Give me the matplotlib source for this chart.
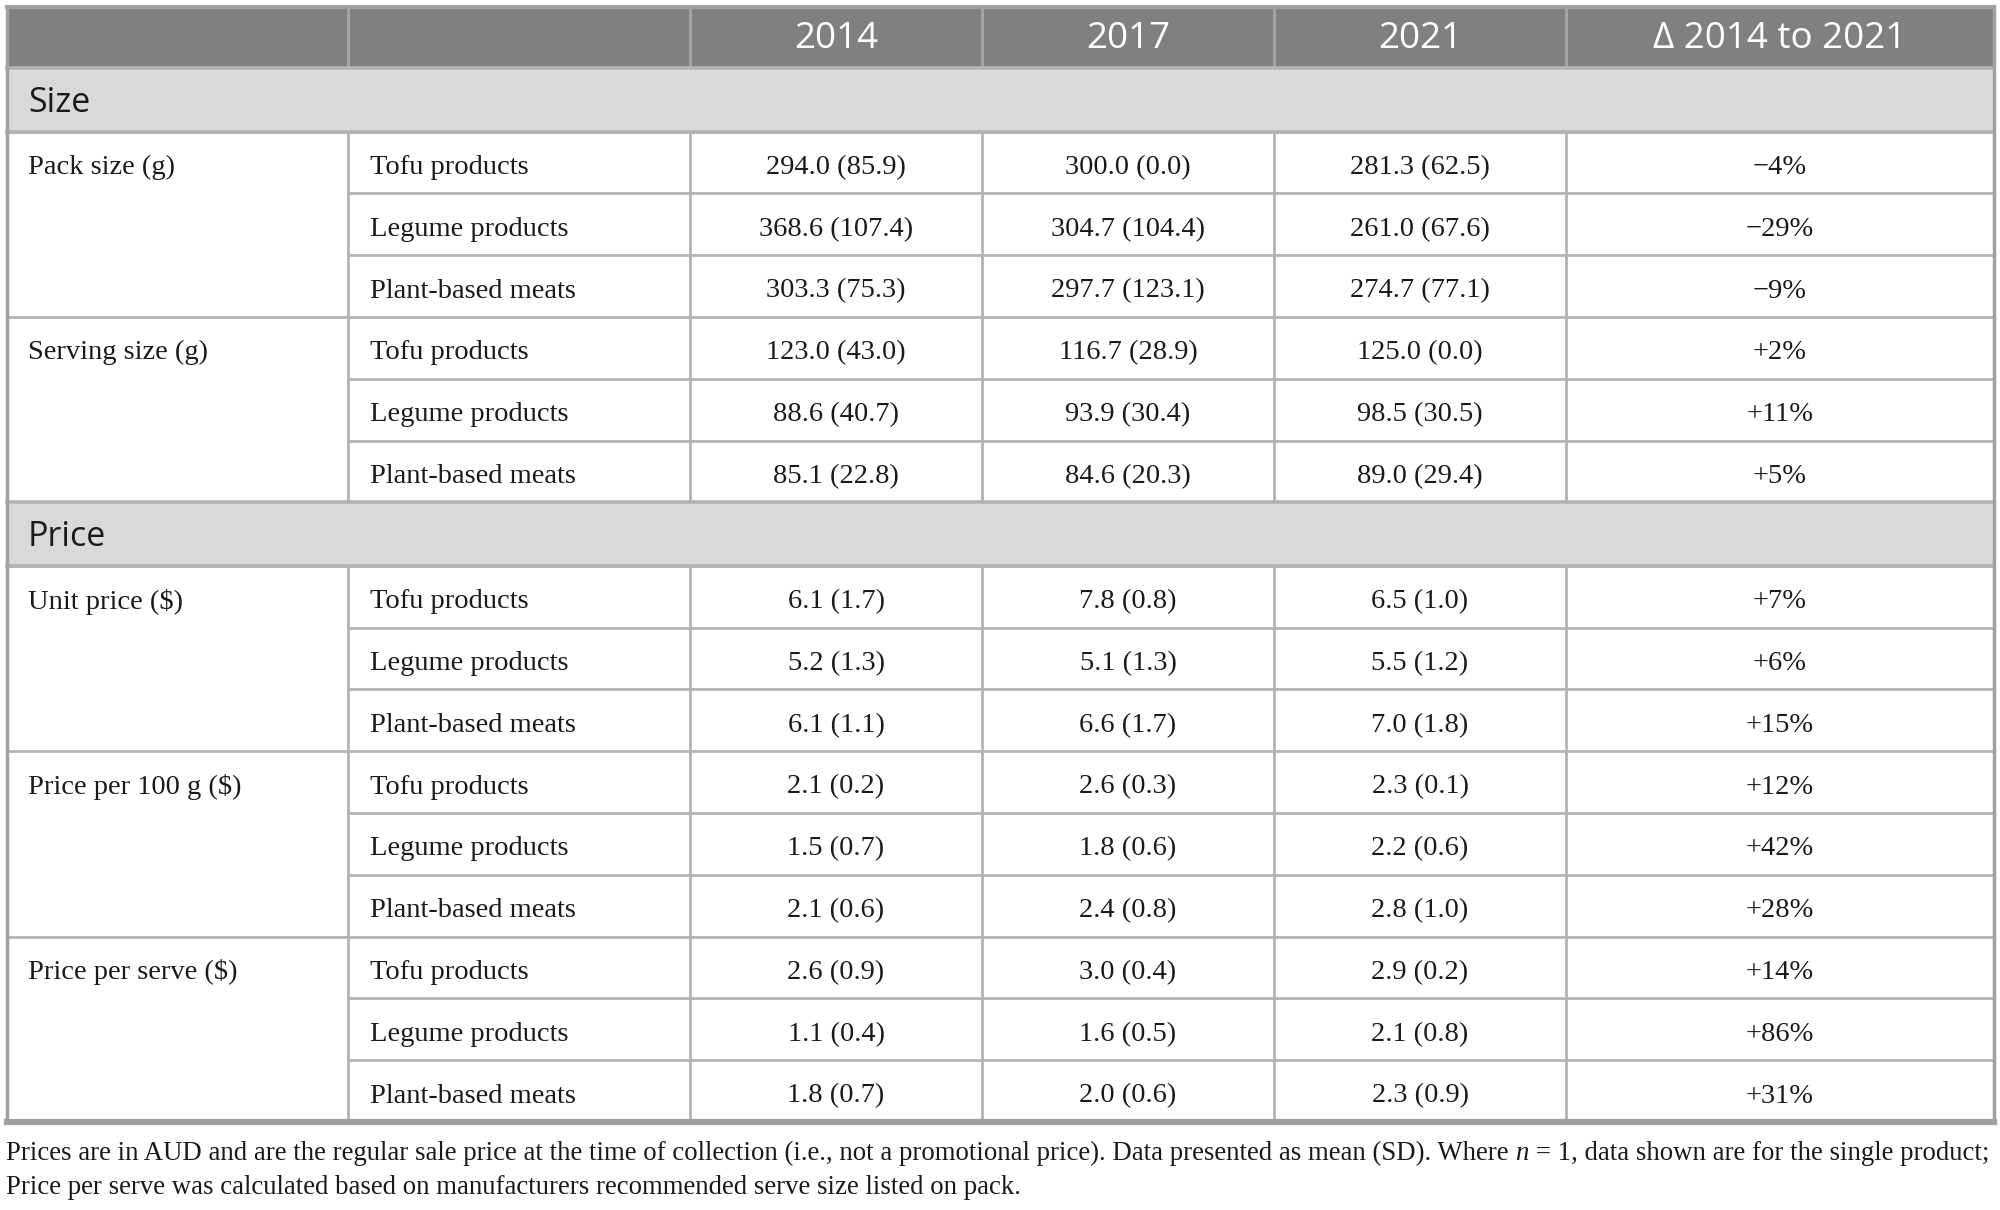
import matplotlib
matplotlib.use("Agg")
import matplotlib.pyplot as plt
from matplotlib.patches import Rectangle

# ---------------- data ----------------
years = ["2014", "2017", "2021"]
delta_header = "Δ 2014 to 2021"
sections = ["Size", "Price"]
measures = ["Pack size (g)", "Serving size (g)", "Unit price ($)",
            "Price per 100 g ($)", "Price per serve ($)"]
measure_section = [0, 0, 1, 1, 1]
products = ["Tofu products", "Legume products", "Plant-based meats"]

mean_2014 = [294.0, 368.6, 303.3, 123.0, 88.6, 85.1, 6.1, 5.2, 6.1, 2.1, 1.5, 2.1, 2.6, 1.1, 1.8]
sd_2014 = [85.9, 107.4, 75.3, 43.0, 40.7, 22.8, 1.7, 1.3, 1.1, 0.2, 0.7, 0.6, 0.9, 0.4, 0.7]
mean_2017 = [300.0, 304.7, 297.7, 116.7, 93.9, 84.6, 7.8, 5.1, 6.6, 2.6, 1.8, 2.4, 3.0, 1.6, 2.0]
sd_2017 = [0.0, 104.4, 123.1, 28.9, 30.4, 20.3, 0.8, 1.3, 1.7, 0.3, 0.6, 0.8, 0.4, 0.5, 0.6]
mean_2021 = [281.3, 261.0, 274.7, 125.0, 98.5, 89.0, 6.5, 5.5, 7.0, 2.3, 2.2, 2.8, 2.9, 2.1, 2.3]
sd_2021 = [62.5, 67.6, 77.1, 0.0, 30.5, 29.4, 1.0, 1.2, 1.8, 0.1, 0.6, 1.0, 0.2, 0.8, 0.9]
delta_pct = [-4, -29, -9, 2, 11, 5, 7, 6, 15, 12, 42, 28, 14, 86, 31]

footnote_1a = ("Prices are in AUD and are the regular sale price at the time of collection "
               "(i.e., not a promotional price). Data presented as mean (SD). Where ")
footnote_1b = "n"
footnote_1c = " = 1, data shown are for the single product;"
footnote_2 = "Price per serve was calculated based on manufacturers recommended serve size listed on pack."

# ---------------- layout ----------------
W, H = 2000, 1210
fig = plt.figure(figsize=(20, 12.1), dpi=100)
ax = fig.add_axes([0, 0, 1, 1])
ax.set_xlim(0, W)
ax.set_ylim(H, 0)
ax.axis("off")

SERIF = ["Liberation Serif", "DejaVu Serif"]
SANS = ["Open Sans", "DejaVu Sans"]
body_fs = 20.5
head_fs = 26.5
sec_fs = 24.5
foot_fs = 19.3
txt_c = "#1a1a1a"

col_x = [6.5, 348, 690, 982, 1274, 1566, 1994]
top = 6.5
header_h = 61.5
section_h = 63.5
row_h = 61.8
line_c = "#b3b3b3"
lw = 2.0
dy = 5  # body text baseline offset within rows

# compute row positions
y = top
header_top, header_bot = y, y + header_h
y = header_bot
rows = []  # (kind, y0, y1, payload)
data_i = 0
for s_i, sec in enumerate(sections):
    rows.append(("section", y, y + section_h, sec))
    y += section_h
    for m_i, meas in enumerate(measures):
        if measure_section[m_i] != s_i:
            continue
        for p_i, prod in enumerate(products):
            rows.append(("data", y, y + row_h, (m_i, p_i, data_i)))
            y += row_h
            data_i += 1
bottom = y

# header
ax.add_patch(Rectangle((col_x[0], header_top), col_x[-1] - col_x[0], header_h,
                       facecolor="#808080", edgecolor="none"))
hc = (header_top + header_bot) / 2
heads = ["", ""] + years + [delta_header]
for j, t in enumerate(heads):
    if t:
        ax.text((col_x[j] + col_x[j + 1]) / 2, hc + 2, t, ha="center", va="center",
                color="white", fontsize=head_fs, family=SANS)
for j in range(1, len(col_x) - 1):
    ax.plot([col_x[j], col_x[j]], [header_top, header_bot], color="#a8a8a8", lw=lw)


def fmt(m, s):
    return f"{m:.1f} ({s:.1f})"


def fmt_delta(d):
    return ("\u2212" if d < 0 else "+") + f"{abs(d)}%"


for kind, y0, y1, payload in rows:
    yc = (y0 + y1) / 2
    if kind == "section":
        ax.add_patch(Rectangle((col_x[0], y0), col_x[-1] - col_x[0], y1 - y0,
                               facecolor="#d9d9d9", edgecolor="none"))
        ax.text(28, yc + 3, payload, ha="left", va="center", color=txt_c,
                fontsize=sec_fs, family=SANS)
        ax.plot([col_x[0], col_x[-1]], [y0, y0], color=line_c, lw=lw + 0.6)
        ax.plot([col_x[0], col_x[-1]], [y1, y1], color=line_c, lw=lw + 0.6)
    else:
        m_i, p_i, k = payload
        if p_i == 0:
            ax.text(28, yc + dy, measures[m_i], ha="left", va="center", color=txt_c,
                    fontsize=body_fs, family=SERIF)
            ax.plot([col_x[0], col_x[-1]], [y0, y0], color=line_c, lw=lw)
        else:
            ax.plot([col_x[1], col_x[-1]], [y0, y0], color=line_c, lw=lw)
        ax.text(370, yc + dy, products[p_i], ha="left", va="center", color=txt_c,
                fontsize=body_fs, family=SERIF)
        vals = [fmt(mean_2014[k], sd_2014[k]), fmt(mean_2017[k], sd_2017[k]),
                fmt(mean_2021[k], sd_2021[k]), fmt_delta(delta_pct[k])]
        for j, v in enumerate(vals):
            ax.text((col_x[j + 2] + col_x[j + 3]) / 2, yc + dy, v, ha="center", va="center",
                    color=txt_c, fontsize=body_fs, family=SERIF)
        for j in range(1, len(col_x) - 1):
            ax.plot([col_x[j], col_x[j]], [y0, y1], color=line_c, lw=lw)

# outer border
ax.plot([col_x[0], col_x[0]], [top, bottom], color="#a0a0a0", lw=lw + 0.5)
ax.plot([col_x[-1], col_x[-1]], [top, bottom], color="#a0a0a0", lw=lw + 0.5)
ax.plot([col_x[0], col_x[-1]], [top, top], color="#a0a0a0", lw=lw + 1)
ax.plot([col_x[0], col_x[-1]], [bottom, bottom], color="#a0a0a0", lw=lw + 2.5)

# footnotes
fig.canvas.draw()
renderer = fig.canvas.get_renderer()
fy1, fy2 = 1153, 1187
x = 6
for txt, style in [(footnote_1a, "normal"), (footnote_1b, "italic"), (footnote_1c, "normal")]:
    t = ax.text(x, fy1, txt, ha="left", va="center", color=txt_c,
                fontsize=foot_fs, family=SERIF, style=style)
    bb = t.get_window_extent(renderer=renderer)
    x = x + bb.width  # 1 data unit == 1 px
ax.text(6, fy2, footnote_2, ha="left", va="center", color=txt_c,
        fontsize=foot_fs, family=SERIF)

fig.savefig("out.png", dpi=100, facecolor="white")
